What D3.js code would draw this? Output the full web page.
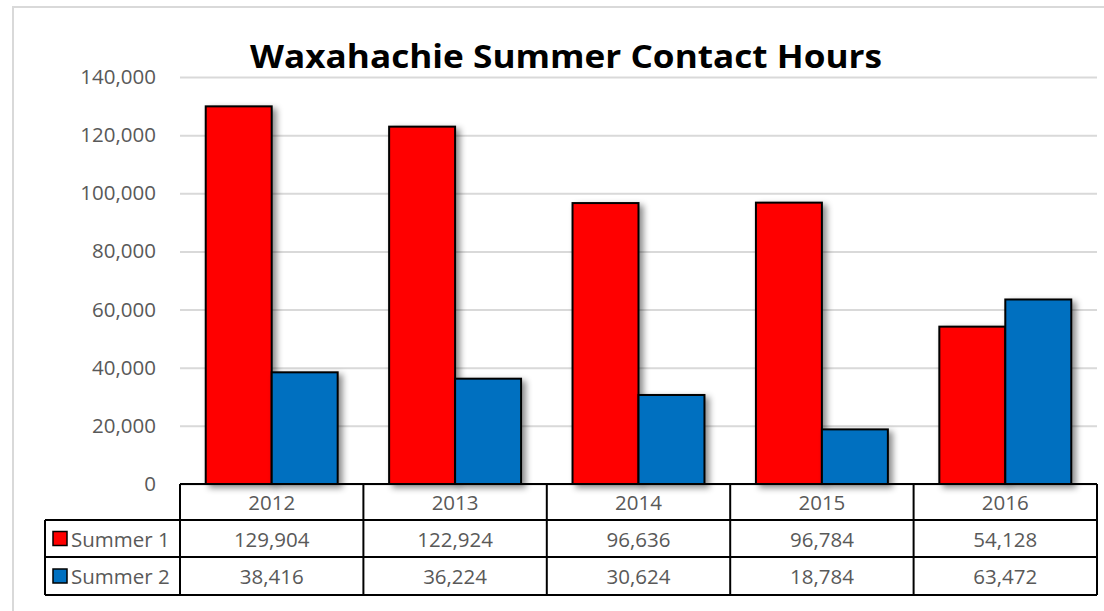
<!DOCTYPE html>
<html>
<head>
<meta charset="utf-8">
<script src="https://cdn.jsdelivr.net/npm/d3@7"></script>
<style>
  body { margin: 0; background: #fff; }
  svg { display: block; }
</style>
</head>
<body>
<svg id="chart"></svg>
<script>
const years = ["2012", "2013", "2014", "2015", "2016"];
const seriesNames = ["Summer 1", "Summer 2"];
const summer1 = [129904, 122924, 96636, 96784, 54128];
const summer2 = [38416, 36224, 30624, 18784, 63472];
const yTicks = [0, 20000, 40000, 60000, 80000, 100000, 120000, 140000];
const colors = ["#ff0000", "#0070c0"];

const W = 1104, H = 611;
const plot = {left: 180, right: 1097, top: 77, bottom: 484};
const rowH = [36, 37, 38];
const legendLeft = 45;
const font = "'Open Sans', sans-serif";
const fontSize = 20.5;
const textColor = "#595959";

const svg = d3.select("#chart").attr("width", W).attr("height", H);

const defs = svg.append("defs");
const shadow = defs.append("filter").attr("id", "shadow")
    .attr("x", "-20%").attr("y", "-20%").attr("width", "150%").attr("height", "150%");
shadow.append("feDropShadow")
    .attr("dx", 4).attr("dy", 3).attr("stdDeviation", 3)
    .attr("flood-color", "#000").attr("flood-opacity", 0.45);

// chart frame
svg.append("path")
    .attr("d", `M13,${H} L13,7 L${W},7`)
    .attr("fill", "none").attr("stroke", "#d9d9d9").attr("stroke-width", 2);

const x = d3.scaleBand().domain(years).range([plot.left, plot.right]);
const xs = d3.scaleBand().domain(seriesNames).range([0, x.bandwidth()]).paddingOuter(0.39);
const y = d3.scaleLinear().domain([0, 140000]).range([plot.bottom, plot.top]);

// grid + y labels
const yAxis = svg.append("g")
    .attr("transform", `translate(${plot.left},0)`)
    .call(d3.axisLeft(y).tickValues(yTicks)
        .tickSize(-(plot.right - plot.left))
        .tickPadding(24)
        .tickFormat(d3.format(",")));
yAxis.select(".domain").remove();
yAxis.selectAll(".tick line").attr("stroke", "#d9d9d9").attr("stroke-width", 2);
yAxis.selectAll(".tick text")
    .attr("fill", textColor).attr("font-family", font).attr("font-size", fontSize);

// bars
const data = years.map((yr, i) => ({year: yr, values: [summer1[i], summer2[i]]}));
const groups = svg.append("g").selectAll("g").data(data).join("g")
    .attr("transform", d => `translate(${x(d.year)},0)`);
groups.selectAll("rect")
    .data(d => d.values.map((v, j) => ({name: seriesNames[j], value: v, j})))
    .join("rect")
    .attr("x", d => xs(d.name))
    .attr("y", d => y(d.value))
    .attr("width", xs.bandwidth())
    .attr("height", d => y(0) - y(d.value))
    .attr("fill", d => colors[d.j])
    .attr("stroke", "#000").attr("stroke-width", 2)
    .attr("filter", "url(#shadow)");

// title
svg.append("text")
    .attr("x", 566).attr("y", 68)
    .attr("text-anchor", "middle")
    .attr("font-family", font).attr("font-weight", "bold").attr("font-size", 32)
    .attr("fill", "#000")
    .attr("textLength", 632).attr("lengthAdjust", "spacingAndGlyphs")
    .text("Waxahachie Summer Contact Hours");

// data table
const t = svg.append("g");
const r0 = plot.bottom, r1 = r0 + rowH[0], r2 = r1 + rowH[1], r3 = r2 + rowH[2];
const line = (x1, y1, x2, y2) => t.append("line")
    .attr("x1", x1).attr("y1", y1).attr("x2", x2).attr("y2", y2)
    .attr("stroke", "#000").attr("stroke-width", 2);

line(plot.left, r0, plot.right, r0);
line(legendLeft, r1, plot.right, r1);
line(legendLeft, r2, plot.right, r2);
line(legendLeft, r3, plot.right, r3);
line(legendLeft, r1, legendLeft, r3);
years.forEach(yr => line(x(yr), r0, x(yr), r3));
line(plot.right, r0, plot.right, r3);

const cellText = (cx, cy, str, anchor) => t.append("text")
    .attr("x", cx).attr("y", cy)
    .attr("text-anchor", anchor || "middle")
    .attr("dominant-baseline", "central")
    .attr("font-family", font).attr("font-size", fontSize)
    .attr("fill", textColor)
    .text(str);

years.forEach(yr => cellText(x(yr) + x.bandwidth() / 2, (r0 + r1) / 2, yr));
const fmt = d3.format(",");
[summer1, summer2].forEach((vals, j) => {
    const top = j === 0 ? r1 : r2, bot = j === 0 ? r2 : r3;
    const cy = (top + bot) / 2;
    vals.forEach((v, i) => cellText(x(years[i]) + x.bandwidth() / 2, cy, fmt(v)));
    t.append("rect")
        .attr("x", 53).attr("y", cy - 7).attr("width", 14).attr("height", 14)
        .attr("fill", colors[j]).attr("stroke", "#000").attr("stroke-width", 1.5);
    cellText(71, cy, seriesNames[j], "start");
});
</script>
</body>
</html>
